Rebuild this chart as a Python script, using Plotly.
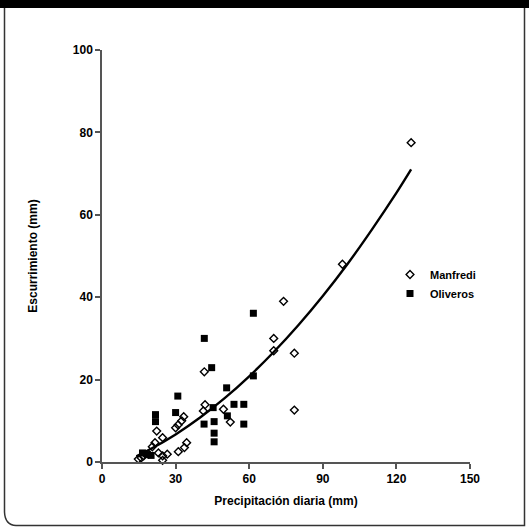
import plotly.graph_objects as go

# ---- data ----
manfredi_x = [126, 98, 78.4, 78.4, 74, 70, 70, 52.3, 49.5, 42, 41.3, 41.7, 33.3, 32.5, 31, 30,
              22.3, 24.7, 21.6, 20.5, 34.5, 33.6, 31.1, 26.6, 24.7, 24.7, 14.8, 18.9, 17, 16, 23]
manfredi_y = [77.5, 48, 26.4, 12.6, 39, 30, 27, 9.7, 12.8, 13.9, 12.4, 21.9, 11, 10, 9, 8.3,
              7.5, 5.9, 4.7, 3.7, 4.7, 3.5, 2.5, 1.9, 1.5, 0.4, 0.7, 1.9, 1.5, 1.0, 2.2]

oliveros_x = [61.7, 41.7, 44.7, 61.7, 50.8, 30.9, 30, 21.8, 21.8, 45.3, 53.8, 57.8, 51.1, 41.6,
              45.7, 57.8, 45.7, 45.7, 16.5, 18.5, 20]
oliveros_y = [36.1, 30, 22.9, 20.9, 18, 16, 12, 11.5, 9.8, 13.2, 14, 14, 11.2, 9.2,
              9.8, 9.2, 7, 4.9, 2.2, 1.8, 1.6]

curve_x = [14, 20, 30, 40, 50, 60, 70, 80, 90, 100, 110, 120, 126]
curve_y = [1.4, 3.2, 6.7, 10.8, 15.5, 20.8, 26.7, 33.2, 40.3, 48.0, 56.4, 65.3, 71]

x_ticks = [0, 30, 60, 90, 120, 150]
y_ticks = [0, 20, 40, 60, 80, 100]

# ---- layout geometry ----
W, H = 529, 528
L, R, T, B = 102, 59, 50, 66
PW, PH = W - L - R, H - T - B

def px(x):
    return (x - L) / PW

def py(y):
    return (H - B - y) / PH

FONT = "Liberation Sans, Arial, sans-serif"

fig = go.Figure()
fig.add_trace(go.Scatter(x=curve_x, y=curve_y, mode="lines", line=dict(color="black", width=2.4, shape="spline"),
                         showlegend=False, hoverinfo="skip"))
fig.add_trace(go.Scatter(x=manfredi_x, y=manfredi_y, mode="markers", name="Manfredi",
                         marker=dict(symbol="diamond-open", size=6, color="black", line=dict(width=1.4, color="black")),
                         cliponaxis=False))
fig.add_trace(go.Scatter(x=oliveros_x, y=oliveros_y, mode="markers", name="Oliveros",
                         marker=dict(symbol="square", size=7, color="black"), cliponaxis=False))

# frame: black band at top, border with rounded bottom-left corner
border = (f"M {px(4.5)},{py(8)} L {px(4.5)},{py(512)} Q {px(5)},{py(525)} {px(16)},{py(525.5)} "
          f"L {px(524.5)},{py(525.5)} L {px(524.5)},{py(8)}")
fig.update_layout(shapes=[
    dict(type="rect", xref="paper", yref="paper", x0=px(-2), x1=px(W + 2), y0=py(8), y1=py(-2),
         fillcolor="black", line=dict(width=0), layer="above"),
    dict(type="path", xref="paper", yref="paper", path=border, line=dict(color="#333333", width=1.5)),
])

axis_common = dict(showgrid=False, zeroline=False, showline=True, linecolor="#555555", linewidth=1.5,
                   ticks="outside", ticklen=5, tickcolor="#555555", tickwidth=1.5,
                   tickfont=dict(family=FONT, size=12, color="black", weight="bold"))

fig.update_xaxes(range=[0, 150], tickvals=x_ticks, ticktext=[str(v) for v in x_ticks],
                 title=dict(text="Precipitación diaria (mm)", font=dict(family=FONT, size=12, color="black", weight="bold"),
                            standoff=11), **axis_common)
fig.update_yaxes(range=[0, 100], tickvals=y_ticks, ticktext=[str(v) for v in y_ticks],
                 title=dict(text="Escurrimiento (mm)", font=dict(family=FONT, size=12, color="black", weight="bold"),
                            standoff=33), **axis_common)

fig.update_layout(
    width=W, height=H, margin=dict(l=L, r=R, t=T, b=B, autoexpand=False),
    paper_bgcolor="white", plot_bgcolor="white",
    legend=dict(x=px(390), y=py(260), xanchor="left", yanchor="top", bgcolor="rgba(0,0,0,0)",
                font=dict(family=FONT, size=11, color="black", weight="bold"), tracegroupgap=4),
)

fig.write_html("out.html")
